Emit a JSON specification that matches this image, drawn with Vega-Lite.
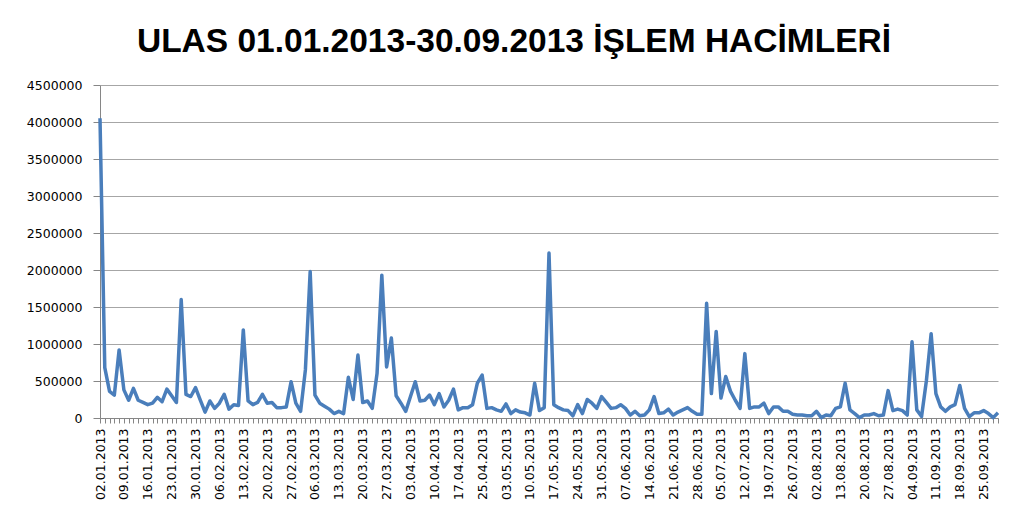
{
  "$schema": "https://vega.github.io/schema/vega-lite/v6.json",
  "width": 898,
  "height": 333,
  "autosize": {"type": "none"},
  "padding": {"left": 100, "top": 85, "right": 14, "bottom": 101},
  "background": "white",
  "config": {"view": {"stroke": null}},
  "title": {
    "text": "ULAS 01.01.2013-30.09.2013 İŞLEM HACİMLERİ",
    "font": "Liberation Sans",
    "fontSize": 33.5,
    "fontWeight": "bold",
    "color": "#000000",
    "anchor": "middle",
    "dx": -35,
    "dy": 32,
    "offset": 26,
    "baseline": "alphabetic"
  },
  "data": {
    "values": [
      {"date": "02.01.2013", "volume": 4050000},
      {"date": "03.01.2013", "volume": 680000},
      {"date": "04.01.2013", "volume": 360000},
      {"date": "07.01.2013", "volume": 310000},
      {"date": "08.01.2013", "volume": 920000},
      {"date": "09.01.2013", "volume": 380000},
      {"date": "10.01.2013", "volume": 240000},
      {"date": "11.01.2013", "volume": 400000},
      {"date": "14.01.2013", "volume": 240000},
      {"date": "15.01.2013", "volume": 210000},
      {"date": "16.01.2013", "volume": 180000},
      {"date": "17.01.2013", "volume": 200000},
      {"date": "18.01.2013", "volume": 280000},
      {"date": "21.01.2013", "volume": 220000},
      {"date": "22.01.2013", "volume": 390000},
      {"date": "23.01.2013", "volume": 300000},
      {"date": "24.01.2013", "volume": 210000},
      {"date": "25.01.2013", "volume": 1600000},
      {"date": "28.01.2013", "volume": 320000},
      {"date": "29.01.2013", "volume": 290000},
      {"date": "30.01.2013", "volume": 410000},
      {"date": "31.01.2013", "volume": 240000},
      {"date": "01.02.2013", "volume": 80000},
      {"date": "04.02.2013", "volume": 230000},
      {"date": "05.02.2013", "volume": 130000},
      {"date": "06.02.2013", "volume": 200000},
      {"date": "07.02.2013", "volume": 320000},
      {"date": "08.02.2013", "volume": 120000},
      {"date": "11.02.2013", "volume": 180000},
      {"date": "12.02.2013", "volume": 170000},
      {"date": "13.02.2013", "volume": 1190000},
      {"date": "14.02.2013", "volume": 230000},
      {"date": "15.02.2013", "volume": 180000},
      {"date": "18.02.2013", "volume": 210000},
      {"date": "19.02.2013", "volume": 320000},
      {"date": "20.02.2013", "volume": 200000},
      {"date": "21.02.2013", "volume": 210000},
      {"date": "22.02.2013", "volume": 140000},
      {"date": "25.02.2013", "volume": 140000},
      {"date": "26.02.2013", "volume": 150000},
      {"date": "27.02.2013", "volume": 490000},
      {"date": "28.02.2013", "volume": 200000},
      {"date": "01.03.2013", "volume": 90000},
      {"date": "04.03.2013", "volume": 650000},
      {"date": "05.03.2013", "volume": 1980000},
      {"date": "06.03.2013", "volume": 310000},
      {"date": "07.03.2013", "volume": 200000},
      {"date": "08.03.2013", "volume": 160000},
      {"date": "11.03.2013", "volume": 120000},
      {"date": "12.03.2013", "volume": 60000},
      {"date": "13.03.2013", "volume": 90000},
      {"date": "14.03.2013", "volume": 60000},
      {"date": "15.03.2013", "volume": 550000},
      {"date": "18.03.2013", "volume": 250000},
      {"date": "19.03.2013", "volume": 850000},
      {"date": "20.03.2013", "volume": 210000},
      {"date": "21.03.2013", "volume": 230000},
      {"date": "22.03.2013", "volume": 130000},
      {"date": "25.03.2013", "volume": 600000},
      {"date": "26.03.2013", "volume": 1930000},
      {"date": "27.03.2013", "volume": 690000},
      {"date": "28.03.2013", "volume": 1080000},
      {"date": "29.03.2013", "volume": 300000},
      {"date": "01.04.2013", "volume": 200000},
      {"date": "02.04.2013", "volume": 90000},
      {"date": "03.04.2013", "volume": 290000},
      {"date": "04.04.2013", "volume": 490000},
      {"date": "05.04.2013", "volume": 230000},
      {"date": "08.04.2013", "volume": 240000},
      {"date": "09.04.2013", "volume": 310000},
      {"date": "10.04.2013", "volume": 180000},
      {"date": "11.04.2013", "volume": 330000},
      {"date": "12.04.2013", "volume": 150000},
      {"date": "15.04.2013", "volume": 240000},
      {"date": "16.04.2013", "volume": 390000},
      {"date": "17.04.2013", "volume": 110000},
      {"date": "18.04.2013", "volume": 140000},
      {"date": "19.04.2013", "volume": 140000},
      {"date": "22.04.2013", "volume": 180000},
      {"date": "24.04.2013", "volume": 470000},
      {"date": "25.04.2013", "volume": 580000},
      {"date": "26.04.2013", "volume": 130000},
      {"date": "29.04.2013", "volume": 140000},
      {"date": "30.04.2013", "volume": 110000},
      {"date": "02.05.2013", "volume": 90000},
      {"date": "03.05.2013", "volume": 190000},
      {"date": "06.05.2013", "volume": 60000},
      {"date": "07.05.2013", "volume": 110000},
      {"date": "08.05.2013", "volume": 80000},
      {"date": "09.05.2013", "volume": 70000},
      {"date": "10.05.2013", "volume": 40000},
      {"date": "13.05.2013", "volume": 470000},
      {"date": "14.05.2013", "volume": 100000},
      {"date": "15.05.2013", "volume": 140000},
      {"date": "16.05.2013", "volume": 2230000},
      {"date": "17.05.2013", "volume": 180000},
      {"date": "20.05.2013", "volume": 140000},
      {"date": "21.05.2013", "volume": 110000},
      {"date": "22.05.2013", "volume": 100000},
      {"date": "23.05.2013", "volume": 30000},
      {"date": "24.05.2013", "volume": 180000},
      {"date": "27.05.2013", "volume": 60000},
      {"date": "28.05.2013", "volume": 250000},
      {"date": "29.05.2013", "volume": 200000},
      {"date": "30.05.2013", "volume": 130000},
      {"date": "31.05.2013", "volume": 290000},
      {"date": "03.06.2013", "volume": 210000},
      {"date": "04.06.2013", "volume": 130000},
      {"date": "05.06.2013", "volume": 140000},
      {"date": "06.06.2013", "volume": 180000},
      {"date": "07.06.2013", "volume": 130000},
      {"date": "10.06.2013", "volume": 40000},
      {"date": "11.06.2013", "volume": 90000},
      {"date": "12.06.2013", "volume": 30000},
      {"date": "13.06.2013", "volume": 40000},
      {"date": "14.06.2013", "volume": 110000},
      {"date": "17.06.2013", "volume": 290000},
      {"date": "18.06.2013", "volume": 60000},
      {"date": "19.06.2013", "volume": 70000},
      {"date": "20.06.2013", "volume": 120000},
      {"date": "21.06.2013", "volume": 40000},
      {"date": "24.06.2013", "volume": 80000},
      {"date": "25.06.2013", "volume": 110000},
      {"date": "26.06.2013", "volume": 140000},
      {"date": "27.06.2013", "volume": 90000},
      {"date": "28.06.2013", "volume": 50000},
      {"date": "01.07.2013", "volume": 50000},
      {"date": "02.07.2013", "volume": 1550000},
      {"date": "03.07.2013", "volume": 330000},
      {"date": "04.07.2013", "volume": 1170000},
      {"date": "05.07.2013", "volume": 270000},
      {"date": "08.07.2013", "volume": 560000},
      {"date": "09.07.2013", "volume": 360000},
      {"date": "10.07.2013", "volume": 240000},
      {"date": "11.07.2013", "volume": 130000},
      {"date": "12.07.2013", "volume": 870000},
      {"date": "15.07.2013", "volume": 130000},
      {"date": "16.07.2013", "volume": 150000},
      {"date": "17.07.2013", "volume": 150000},
      {"date": "18.07.2013", "volume": 200000},
      {"date": "19.07.2013", "volume": 60000},
      {"date": "22.07.2013", "volume": 150000},
      {"date": "23.07.2013", "volume": 150000},
      {"date": "24.07.2013", "volume": 90000},
      {"date": "25.07.2013", "volume": 90000},
      {"date": "26.07.2013", "volume": 50000},
      {"date": "29.07.2013", "volume": 40000},
      {"date": "30.07.2013", "volume": 40000},
      {"date": "31.07.2013", "volume": 30000},
      {"date": "01.08.2013", "volume": 30000},
      {"date": "02.08.2013", "volume": 90000},
      {"date": "05.08.2013", "volume": 5000},
      {"date": "06.08.2013", "volume": 40000},
      {"date": "07.08.2013", "volume": 30000},
      {"date": "12.08.2013", "volume": 130000},
      {"date": "13.08.2013", "volume": 150000},
      {"date": "14.08.2013", "volume": 470000},
      {"date": "15.08.2013", "volume": 110000},
      {"date": "16.08.2013", "volume": 60000},
      {"date": "19.08.2013", "volume": 5000},
      {"date": "20.08.2013", "volume": 40000},
      {"date": "21.08.2013", "volume": 40000},
      {"date": "22.08.2013", "volume": 60000},
      {"date": "23.08.2013", "volume": 30000},
      {"date": "26.08.2013", "volume": 40000},
      {"date": "27.08.2013", "volume": 370000},
      {"date": "28.08.2013", "volume": 100000},
      {"date": "29.08.2013", "volume": 120000},
      {"date": "02.09.2013", "volume": 100000},
      {"date": "03.09.2013", "volume": 40000},
      {"date": "04.09.2013", "volume": 1030000},
      {"date": "05.09.2013", "volume": 110000},
      {"date": "06.09.2013", "volume": 20000},
      {"date": "09.09.2013", "volume": 500000},
      {"date": "10.09.2013", "volume": 1140000},
      {"date": "11.09.2013", "volume": 330000},
      {"date": "12.09.2013", "volume": 150000},
      {"date": "13.09.2013", "volume": 90000},
      {"date": "16.09.2013", "volume": 150000},
      {"date": "17.09.2013", "volume": 180000},
      {"date": "18.09.2013", "volume": 440000},
      {"date": "19.09.2013", "volume": 130000},
      {"date": "20.09.2013", "volume": 20000},
      {"date": "23.09.2013", "volume": 70000},
      {"date": "24.09.2013", "volume": 70000},
      {"date": "25.09.2013", "volume": 100000},
      {"date": "26.09.2013", "volume": 60000},
      {"date": "27.09.2013", "volume": 5000},
      {"date": "30.09.2013", "volume": 70000}
    ]
  },
  "mark": {"type": "line", "color": "#4A7EBB", "strokeWidth": 3.5, "strokeJoin": "round"},
  "encoding": {
    "x": {
      "field": "date",
      "type": "ordinal",
      "sort": null,
      "scale": {"type": "point", "padding": 0},
      "axis": {
        "title": null,
        "grid": false,
        "labelAngle": -90,
        "labelFont": "DejaVu Sans",
        "labelFontSize": 12.5,
        "labelColor": "#000000",
        "labelPadding": 5,
        "labelOverlap": false,
        "labelExpr": "indexof(['02.01.2013','09.01.2013','16.01.2013','23.01.2013','30.01.2013','06.02.2013','13.02.2013','20.02.2013','27.02.2013','06.03.2013','13.03.2013','20.03.2013','27.03.2013','03.04.2013','10.04.2013','17.04.2013','25.04.2013','03.05.2013','10.05.2013','17.05.2013','24.05.2013','31.05.2013','07.06.2013','14.06.2013','21.06.2013','28.06.2013','05.07.2013','12.07.2013','19.07.2013','26.07.2013','02.08.2013','13.08.2013','20.08.2013','27.08.2013','04.09.2013','11.09.2013','18.09.2013','25.09.2013'], datum.label) >= 0 ? datum.label : ''",
        "domainColor": "#868686",
        "tickColor": "#868686",
        "tickSize": 5
      }
    },
    "y": {
      "field": "volume",
      "type": "quantitative",
      "scale": {"domain": [0, 4500000], "nice": false},
      "axis": {
        "title": null,
        "values": [0, 500000, 1000000, 1500000, 2000000, 2500000, 3000000, 3500000, 4000000, 4500000],
        "format": "d",
        "labelFont": "DejaVu Sans",
        "labelFontSize": 12.5,
        "labelColor": "#000000",
        "labelPadding": 11,
        "tickSize": 7,
        "tickColor": "#868686",
        "domainColor": "#868686",
        "gridColor": "#A6A6A6",
        "grid": true
      }
    }
  }
}
